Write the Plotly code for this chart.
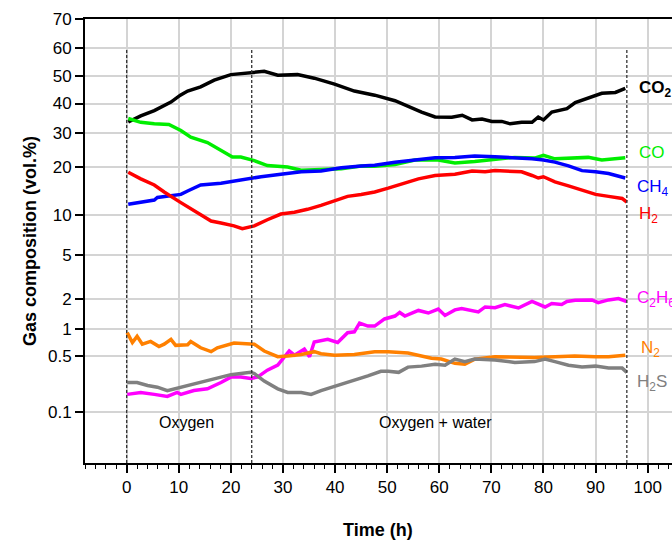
import plotly.graph_objects as go
from statistics import NormalDist

# ---------------- data (vol.%) ----------------
t_co2 = [0.3, 2.7, 5.3, 8.5, 10.3, 11.7, 14.2, 16.8, 20, 23.2, 26.4, 29, 32.8, 36, 39.9, 43.7, 47.6,
         51.5, 54, 56.6, 59.2, 62.4, 64.4, 66.3, 68.2, 70.1, 72, 73.6, 75.8, 77.8, 79, 80, 81.6, 84.5,
         86.1, 88.6, 91.2, 93.8, 95.7]
co2 = [33.6, 35.7, 37.5, 40.5, 43, 44.5, 46, 48.5, 50.5, 51, 51.7, 50.3, 50.5, 49.2, 47, 44.5, 43,
       41, 39, 37, 35.3, 35.2, 35.9, 34.3, 34.6, 33.8, 33.8, 33, 33.5, 33.5, 35.3, 34.3, 37, 38.2,
       40.3, 42, 43.7, 44, 45.5]

t_co = [0.3, 2.7, 5.3, 8.1, 10.4, 12.3, 15.5, 18.1, 20.3, 21.9, 24.5, 27, 30.9, 33.5, 37.3, 41.2, 45,
        47.6, 51.5, 55.3, 59.8, 63, 66.8, 70.7, 74.5, 78.3, 80, 82.2, 86, 88.6, 91.2, 93.8, 95.7]
co = [34.8, 33.5, 33, 32.8, 30.8, 28.7, 27, 24.6, 22.8, 22.8, 21.8, 20.5, 20.1, 19.3, 19.4, 19.7, 20.4,
      20.3, 20.8, 22, 22, 21.2, 21.6, 22.2, 22.7, 22.5, 23.3, 22.3, 22.6, 22.7, 22, 22.3, 22.6]

t_ch4 = [0.3, 2.7, 5.3, 5.9, 10.4, 11.7, 14.2, 18.1, 21.9, 25.8, 29.6, 33.5, 37.3, 41.2, 45, 47.6,
         51.5, 55.3, 59.2, 63, 66.8, 70.7, 74.5, 77.8, 80, 82.2, 84.8, 87.4, 90, 92.5, 95.7]
ch4 = [11.9, 12.3, 12.7, 13.2, 13.8, 14.5, 15.8, 16.2, 17, 17.7, 18.3, 18.9, 19.1, 19.9, 20.4, 20.6,
       21.4, 22, 22.6, 22.7, 23.1, 22.9, 22.7, 22.3, 22, 21.4, 20.4, 19.2, 18.9, 18.5, 17.4]

t_h2 = [0.3, 2.7, 5.3, 7.2, 10.4, 14.2, 16.2, 18.1, 20.6, 22.2, 24.5, 27, 29.6, 32.2, 34.7, 37.3, 39.9,
        42.4, 45, 47.6, 50.2, 52.7, 56, 59.2, 63, 66.3, 68.8, 70.7, 73.3, 75.8, 77.8, 79, 80, 82.2,
        84.8, 87.4, 90, 92.5, 95.1, 96]
h2 = [18.8, 17.2, 15.8, 14.3, 12.2, 10.2, 9.1, 8.8, 8.4, 8.0, 8.4, 9.3, 10.2, 10.5, 11, 11.7, 12.6,
      13.4, 13.8, 14.3, 15.1, 15.9, 17.2, 18, 18.3, 19.1, 18.9, 19.2, 19, 18.9, 18, 17.4, 17.7, 16.5,
      15.6, 14.6, 13.8, 13.4, 13, 12.3]

t_c2h6 = [0.1, 2.7, 5.3, 7.8, 9.7, 10.4, 12.9, 15.5, 18.1, 20, 21.9, 23.8, 25.1, 27, 29, 30.3, 31.2,
          32.2, 34.1, 35.1, 36, 38.6, 40.5, 42.4, 43.7, 44.7, 46.3, 47.6, 49.5, 51.5, 52.4, 53.4, 56,
          57.9, 59.8, 61.1, 63, 64.3, 67.5, 68.8, 70.7, 72.6, 75.2, 77.8, 80.3, 81.6, 83.5, 84.5, 86.1,
          89.3, 90.5, 92.5, 94.4, 96]
c2h6 = [0.17, 0.18, 0.17, 0.16, 0.18, 0.17, 0.19, 0.2, 0.24, 0.28, 0.28, 0.27, 0.28, 0.34, 0.39, 0.49,
        0.57, 0.51, 0.6, 0.49, 0.72, 0.77, 0.71, 0.91, 0.93, 1.15, 1.07, 1.07, 1.27, 1.36, 1.48, 1.36,
        1.55, 1.46, 1.6, 1.38, 1.57, 1.62, 1.5, 1.68, 1.65, 1.77, 1.64, 1.9, 1.68, 1.82, 1.78, 1.9,
        1.95, 1.97, 1.85, 1.97, 2.03, 1.9]

t_n2 = [0.1, 1.1, 2, 3, 4.6, 6.2, 7.2, 8.5, 9.4, 11.7, 12.3, 14.2, 16.2, 17.4, 20.6, 22.6, 24.5, 26.4,
        29, 30.9, 33.5, 36, 37.3, 39.9, 43.7, 47.6, 50.2, 54, 56.6, 58.5, 60.4, 63, 64.9, 66.8, 70.7,
        74.5, 78.3, 82.2, 86, 90, 92.5, 95.7]
n2 = [0.91, 0.71, 0.83, 0.68, 0.73, 0.64, 0.68, 0.77, 0.66, 0.67, 0.73, 0.62, 0.56, 0.62, 0.7, 0.69,
      0.68, 0.57, 0.49, 0.5, 0.52, 0.56, 0.53, 0.51, 0.52, 0.56, 0.56, 0.54, 0.5, 0.47, 0.46, 0.41,
      0.4, 0.46, 0.49, 0.48, 0.48, 0.49, 0.5, 0.49, 0.49, 0.51]

t_h2s = [0.1, 2, 4, 5.9, 7.8, 10.4, 13.6, 16.8, 20, 21.9, 23.8, 24.5, 26.4, 29, 30.9, 33.5, 35.4,
         37.3, 40.5, 43.7, 46.3, 48.8, 50.2, 52.2, 54, 56.6, 59.2, 61.1, 63, 64.9, 66.8, 70.7, 74.5,
         78.3, 80.3, 82.2, 84.8, 87.4, 90, 92.5, 95.1, 96]
h2s = [0.24, 0.24, 0.22, 0.21, 0.19, 0.21, 0.24, 0.27, 0.3, 0.31, 0.32, 0.31, 0.25, 0.2, 0.18, 0.18,
       0.17, 0.19, 0.22, 0.26, 0.29, 0.33, 0.33, 0.32, 0.37, 0.38, 0.4, 0.39, 0.46, 0.43, 0.46, 0.45,
       0.42, 0.43, 0.46, 0.43, 0.39, 0.37, 0.38, 0.36, 0.36, 0.32]

y_ticks = [0.1, 0.5, 1, 2, 5, 10, 20, 30, 40, 50, 60, 70]
x_ticks = [0, 10, 20, 30, 40, 50, 60, 70, 80, 90, 100]
phase_lines = [0, 24, 96]

series = [
    ("CO<sub>2</sub>", t_co2, co2, "#000000"),
    ("CO", t_co, co, "#00ee00"),
    ("CH<sub>4</sub>", t_ch4, ch4, "#0000ff"),
    ("H<sub>2</sub>", t_h2, h2, "#ff0000"),
    ("C<sub>2</sub>H<sub>6</sub>", t_c2h6, c2h6, "#ff00ff"),
    ("N<sub>2</sub>", t_n2, n2, "#ff8000"),
    ("H<sub>2</sub>S", t_h2s, h2s, "#808080"),
]

# probability (probit) axis transform
nd = NormalDist()
def P(v):
    return nd.inv_cdf(v / 100.0)

FONT = "Liberation Sans, Arial, sans-serif"
fig = go.Figure()
for name, t, v, col in series:
    fig.add_trace(go.Scatter(x=t, y=[P(a) for a in v], mode="lines", name=name,
                             line=dict(color=col, width=3.5), showlegend=False))

y_lo = P(0.0185)
y_hi = P(70)
for xv in phase_lines:
    fig.add_shape(type="line", xref="x", yref="y", x0=xv, x1=xv, y0=y_lo, y1=P(60),
                  line=dict(color="#333333", width=1.3, dash="3px,2px"))

# right-side labels (paper coords)
labels = [
    ("<b>CO<sub>2</sub></b>", 0.843, "#000000", 637),
    ("CO", 0.700, "#00ee00", 637),
    ("CH<sub>4</sub>", 0.620, "#0000ff", 635),
    ("H<sub>2</sub>", 0.558, "#ff0000", 637),
    ("C<sub>2</sub>H<sub>6</sub>", 0.370, "#ff00ff", 635),
    ("N<sub>2</sub>", 0.257, "#ff8000", 639),
    ("H<sub>2</sub>S", 0.180, "#808080", 635),
]
for txt, yp, col, px in labels:
    fig.add_annotation(x=(px - 126.7) / 5.21, xref="x", y=yp, yref="paper", text=txt,
                       showarrow=False, xanchor="left", yanchor="middle",
                       font=dict(family=FONT, size=17, color=col))

fig.add_annotation(x=11.4, xref="x", y=0.068, yref="paper", text="Oxygen", showarrow=False,
                   font=dict(family=FONT, size=16, color="#000000"))
fig.add_annotation(x=59.2, xref="x", y=0.068, yref="paper", text="Oxygen + water", showarrow=False,
                   font=dict(family=FONT, size=16, color="#000000"))

# axis titles as annotations for exact placement
fig.add_annotation(x=(378 - 85) / 587, xref="paper", y=(463 - 530) / 444, yref="paper",
                   text="<b>Time (h)</b>", showarrow=False, xanchor="center", yanchor="middle",
                   font=dict(family=FONT, size=18, color="#000000"))
fig.add_annotation(x=(30 - 85) / 587, xref="paper", y=(463 - 241) / 444, yref="paper",
                   text="<b>Gas composition (vol.%)</b>", showarrow=False, textangle=-90,
                   xanchor="center", yanchor="middle",
                   font=dict(family=FONT, size=18, color="#000000"))

fig.update_layout(
    width=672, height=542,
    margin=dict(l=85, r=0, t=19, b=79, autoexpand=False),
    plot_bgcolor="white", paper_bgcolor="white",
    font=dict(family=FONT, size=17, color="#000000"),
    xaxis=dict(range=[-8, 104.67], tickvals=x_ticks, ticks="outside", ticklen=8, tickwidth=1.5,
               tickcolor="black", showline=True, linecolor="black", linewidth=2, mirror=True,
               showgrid=True, gridcolor="#d4d4d4", gridwidth=1.5, zeroline=False, automargin=False,
               minor=dict(dtick=2, ticks="outside", ticklen=4, tickwidth=1.2, tickcolor="black",
                          showgrid=False),
               tickfont=dict(size=17)),
    yaxis=dict(range=[y_lo, y_hi], tickvals=[P(v) for v in y_ticks],
               ticktext=[str(v) for v in y_ticks], ticks="outside", ticklen=8, tickwidth=1.5,
               tickcolor="black", showline=True, linecolor="black", linewidth=2, mirror=False,
               showgrid=True, gridcolor="#d4d4d4", gridwidth=1.5, zeroline=False, automargin=False,
               tickfont=dict(size=17)),
)

fig.write_html("out.html", config={"displayModeBar": False},
               post_script="document.body.style.margin='0';document.body.style.overflow='hidden';")
